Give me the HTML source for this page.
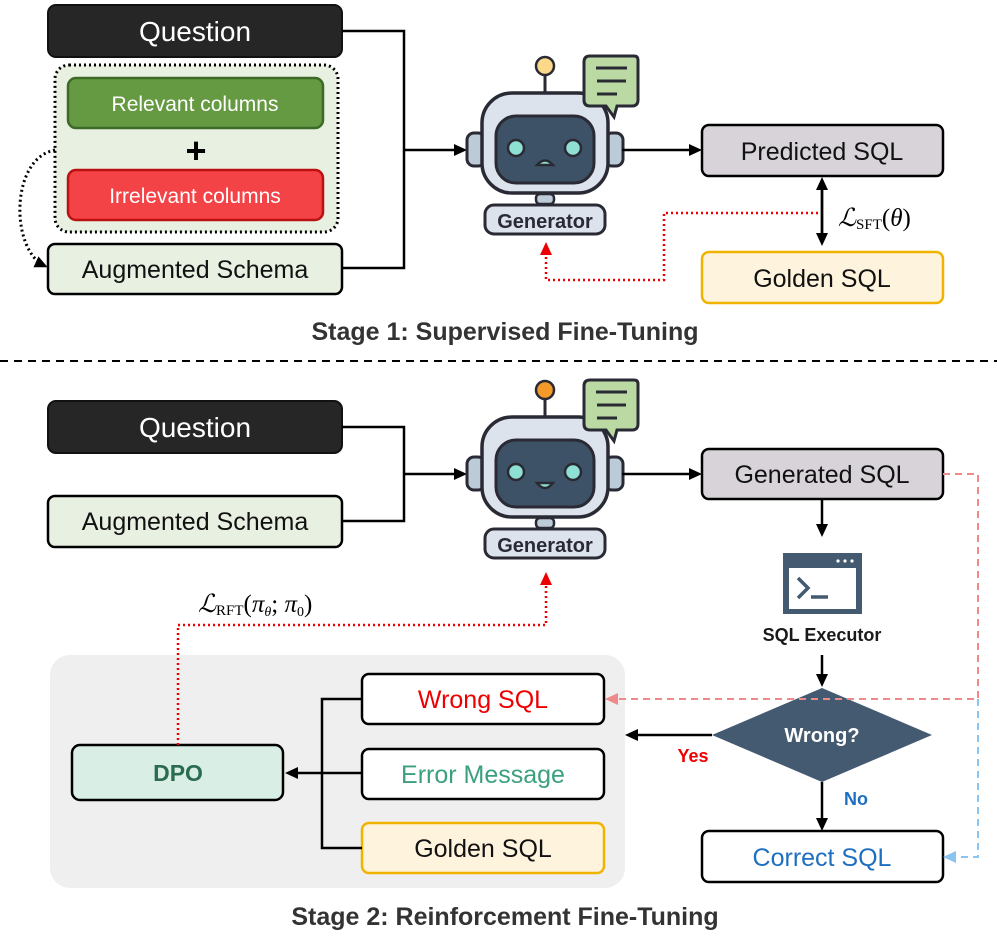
<!DOCTYPE html>
<html><head><meta charset="utf-8"><style>
html,body{margin:0;padding:0;background:#fff;}
svg{display:block;font-family:"Liberation Sans",sans-serif;}
</style></head><body>
<svg width="997" height="941" viewBox="0 0 997 941" xmlns="http://www.w3.org/2000/svg">
<defs>
<marker id="ab" markerWidth="13" markerHeight="12" refX="10" refY="6" orient="auto" markerUnits="userSpaceOnUse"><path d="M0,0 L13,6 L0,12 z" fill="#000"/></marker>
<marker id="ar" markerWidth="13" markerHeight="12" refX="10" refY="6" orient="auto" markerUnits="userSpaceOnUse"><path d="M0,0 L13,6 L0,12 z" fill="#e00"/></marker>
<marker id="ap" markerWidth="13" markerHeight="12" refX="10" refY="6" orient="auto" markerUnits="userSpaceOnUse"><path d="M0,0 L13,6 L0,12 z" fill="#f08a8a"/></marker>
<marker id="al" markerWidth="13" markerHeight="12" refX="10" refY="6" orient="auto" markerUnits="userSpaceOnUse"><path d="M0,0 L13,6 L0,12 z" fill="#8cc4f0"/></marker>
<g id="robot">
<line x1="545" y1="72" x2="545" y2="95" stroke="#2a2a35" stroke-width="3"/>
<rect x="467" y="133" width="18" height="33" rx="7" fill="#bccbd8" stroke="#2a2a35" stroke-width="3"/>
<rect x="605" y="133" width="18" height="33" rx="7" fill="#bccbd8" stroke="#2a2a35" stroke-width="3"/>
<rect x="482" y="93" width="126" height="100" rx="30" fill="#dde3ec" stroke="#2a2a35" stroke-width="3.5"/>
<rect x="496" y="116" width="98" height="67" rx="20" fill="#3d5266" stroke="#2a2a35" stroke-width="3"/>
<circle cx="516" cy="148" r="8" fill="#8fe0d4" stroke="#2a2a35" stroke-width="2.5"/>
<circle cx="573" cy="148" r="8" fill="#8fe0d4" stroke="#2a2a35" stroke-width="2.5"/>
<rect x="536" y="194" width="18" height="10" rx="4" fill="#bccbd8" stroke="#2a2a35" stroke-width="2.5"/>
<rect x="485" y="205" width="120" height="29" rx="9" fill="#dde3ec" stroke="#2a2a35" stroke-width="3"/>
<text x="545" y="228" font-size="20" font-weight="bold" fill="#2a2a35" text-anchor="middle">Generator</text>
<path d="M590,56 H634 Q638,56 638,60 V100 Q638,106 632,106 H617 L614,117 L606,106 H590 Q584,106 584,100 V62 Q584,56 590,56 z" fill="#bad9a3" stroke="#2a2a35" stroke-width="3"/>
<line x1="596" y1="68" x2="627" y2="68" stroke="#2a2a35" stroke-width="3"/>
<line x1="597" y1="81" x2="626" y2="81" stroke="#2a2a35" stroke-width="3"/>
<line x1="597" y1="94" x2="617" y2="94" stroke="#2a2a35" stroke-width="3"/>
</g>
</defs>

<!-- Stage 1 -->
<rect x="48" y="5" width="294" height="52" rx="8" fill="#262626" stroke="#111" stroke-width="2"/>
<text x="195" y="41" font-size="28" fill="#fff" text-anchor="middle">Question</text>
<rect x="55" y="65" width="283" height="167" rx="14" fill="#e8f0e2" stroke="#000" stroke-width="3" stroke-dasharray="2,3"/>
<rect x="68" y="78" width="255" height="50" rx="8" fill="#659a42" stroke="#3d6a27" stroke-width="2.5"/>
<text x="195" y="111" font-size="21" fill="#fff" text-anchor="middle">Relevant columns</text>
<text x="196" y="163" font-size="36" font-weight="bold" fill="#000" text-anchor="middle">+</text>
<rect x="68" y="170" width="255" height="50" rx="8" fill="#f44346" stroke="#b11" stroke-width="2.5"/>
<text x="195" y="203" font-size="21" fill="#fff" text-anchor="middle">Irrelevant columns</text>
<rect x="48" y="244" width="294" height="50" rx="7" fill="#e8f0e2" stroke="#000" stroke-width="2.5"/>
<text x="195" y="278" font-size="25" fill="#111" text-anchor="middle">Augmented Schema</text>
<path d="M55,150 C10,158 10,250 45,266" fill="none" stroke="#000" stroke-width="3" stroke-dasharray="2,3" marker-end="url(#ab)"/>
<path d="M342,31 H404 V268 H342" fill="none" stroke="#000" stroke-width="2.5"/>
<line x1="404" y1="150" x2="464" y2="150" stroke="#000" stroke-width="2.5" marker-end="url(#ab)"/>
<use href="#robot"/>
<circle cx="545" cy="66" r="9" fill="#fcd98a" stroke="#2a2a35" stroke-width="2.5"/>
<path d="M537,165 Q545,156 553,165 Z" fill="#8fe0d4" stroke="#2a2a35" stroke-width="2.5"/>
<line x1="622" y1="150" x2="699" y2="150" stroke="#000" stroke-width="2.5" marker-end="url(#ab)"/>
<rect x="702" y="125" width="241" height="51" rx="7" fill="#d7d3d9" stroke="#000" stroke-width="2.5"/>
<text x="822" y="160" font-size="25" fill="#111" text-anchor="middle">Predicted SQL</text>
<rect x="702" y="252" width="241" height="51" rx="7" fill="#fef3dc" stroke="#f0b400" stroke-width="2.5"/>
<text x="822" y="287" font-size="25" fill="#111" text-anchor="middle">Golden SQL</text>
<line x1="822" y1="186" x2="822" y2="243" stroke="#000" stroke-width="2.5" marker-end="url(#ab)"/>
<line x1="822" y1="240" x2="822" y2="180" stroke="#000" stroke-width="2.5" marker-end="url(#ab)"/>
<text x="838" y="226" font-size="25" font-family="Liberation Serif,serif" font-style="italic" fill="#000">ℒ<tspan font-style="normal" font-size="15" dy="3">SFT</tspan><tspan font-style="normal" dy="-3">(</tspan>θ<tspan font-style="normal">)</tspan></text>
<path d="M818,213 H664 V280 H546 V245" fill="none" stroke="#e00" stroke-width="2.5" stroke-dasharray="2,3" marker-end="url(#ar)"/>
<text x="505" y="340" font-size="25" font-weight="bold" fill="#333" text-anchor="middle">Stage 1: Supervised Fine-Tuning</text>
<line x1="0" y1="361" x2="997" y2="361" stroke="#000" stroke-width="2" stroke-dasharray="8,6"/>

<!-- Stage 2 -->
<rect x="48" y="401" width="294" height="52" rx="8" fill="#262626" stroke="#111" stroke-width="2"/>
<text x="195" y="437" font-size="28" fill="#fff" text-anchor="middle">Question</text>
<rect x="48" y="496" width="294" height="51" rx="7" fill="#e8f0e2" stroke="#000" stroke-width="2.5"/>
<text x="195" y="530" font-size="25" fill="#111" text-anchor="middle">Augmented Schema</text>
<path d="M342,427 H404 V521 H342" fill="none" stroke="#000" stroke-width="2.5"/>
<line x1="404" y1="474" x2="464" y2="474" stroke="#000" stroke-width="2.5" marker-end="url(#ab)"/>
<use href="#robot" y="324"/>
<circle cx="545" cy="390" r="9" fill="#f39a2a" stroke="#2a2a35" stroke-width="2.5"/>
<path d="M537,483 Q545,493 553,483 Z" fill="#8fe0d4" stroke="#2a2a35" stroke-width="2.5"/>
<line x1="622" y1="474" x2="699" y2="474" stroke="#000" stroke-width="2.5" marker-end="url(#ab)"/>
<rect x="702" y="449" width="241" height="50" rx="7" fill="#d7d3d9" stroke="#000" stroke-width="2.5"/>
<text x="822" y="483" font-size="25" fill="#111" text-anchor="middle">Generated SQL</text>
<line x1="822" y1="499" x2="822" y2="534" stroke="#000" stroke-width="2.5" marker-end="url(#ab)"/>
<rect x="783" y="553" width="79" height="61" fill="#435a70"/>
<rect x="789" y="568" width="67" height="41" fill="#fff"/>
<circle cx="838" cy="561" r="1.6" fill="#fff"/><circle cx="845" cy="561" r="1.6" fill="#fff"/><circle cx="852" cy="561" r="1.6" fill="#fff"/>
<path d="M798,578 L808,588 L798,598" fill="none" stroke="#435a70" stroke-width="3.5"/>
<line x1="811" y1="597" x2="828" y2="597" stroke="#435a70" stroke-width="3.5"/>
<text x="822" y="641" font-size="18" font-weight="bold" fill="#1a1a1a" text-anchor="middle">SQL Executor</text>
<line x1="822" y1="655" x2="822" y2="684" stroke="#000" stroke-width="2.5" marker-end="url(#ab)"/>
<rect x="50" y="655" width="575" height="233" rx="20" fill="#efefef"/>
<polygon points="822,688 932,735 822,782 712,735" fill="#435a70"/>
<text x="822" y="742" font-size="20" font-weight="bold" fill="#fff" text-anchor="middle">Wrong?</text>
<line x1="712" y1="735" x2="628" y2="735" stroke="#000" stroke-width="2.5" marker-end="url(#ab)"/>
<text x="693" y="762" font-size="18" font-weight="bold" fill="#e00" text-anchor="middle">Yes</text>
<line x1="822" y1="782" x2="822" y2="828" stroke="#000" stroke-width="2.5" marker-end="url(#ab)"/>
<text x="856" y="805" font-size="18" font-weight="bold" fill="#1f6fc0" text-anchor="middle">No</text>
<rect x="702" y="831" width="241" height="51" rx="7" fill="#fff" stroke="#000" stroke-width="2.5"/>
<text x="822" y="866" font-size="25" fill="#1f6fc0" text-anchor="middle">Correct SQL</text>
<path d="M943,474 H978 V699 H608" fill="none" stroke="#f08a8a" stroke-width="2" stroke-dasharray="7,5" marker-end="url(#ap)"/>
<path d="M978,699 V857 H946" fill="none" stroke="#8cc4f0" stroke-width="2" stroke-dasharray="7,5" marker-end="url(#al)"/>
<rect x="362" y="674" width="242" height="50" rx="7" fill="#fff" stroke="#000" stroke-width="2.5"/>
<text x="483" y="708" font-size="25" fill="#e00" text-anchor="middle">Wrong SQL</text>
<rect x="362" y="749" width="242" height="50" rx="7" fill="#fff" stroke="#000" stroke-width="2.5"/>
<text x="483" y="783" font-size="25" fill="#3aa080" text-anchor="middle">Error Message</text>
<rect x="362" y="823" width="242" height="50" rx="7" fill="#fef3dc" stroke="#f0b400" stroke-width="2.5"/>
<text x="483" y="857" font-size="25" fill="#111" text-anchor="middle">Golden SQL</text>
<path d="M362,699 H322 V848 H362" fill="none" stroke="#000" stroke-width="2.5"/>
<line x1="362" y1="773" x2="288" y2="773" stroke="#000" stroke-width="2.5" marker-end="url(#ab)"/>
<rect x="72" y="745" width="211" height="55" rx="8" fill="#d9efe6" stroke="#000" stroke-width="2.5"/>
<text x="178" y="781" font-size="23" font-weight="bold" fill="#2b6b50" text-anchor="middle">DPO</text>
<path d="M178,745 V625 H546 V575" fill="none" stroke="#e00" stroke-width="2.5" stroke-dasharray="2,3" marker-end="url(#ar)"/>
<text x="198" y="612" font-size="25" font-family="Liberation Serif,serif" font-style="italic" fill="#000">ℒ<tspan font-style="normal" font-size="15" dy="3">RFT</tspan><tspan font-style="normal" dy="-3">(</tspan>π<tspan font-size="14" dy="4">θ</tspan><tspan dy="-4" font-style="normal">; </tspan>π<tspan font-size="14" dy="4" font-style="normal">0</tspan><tspan dy="-4" font-style="normal">)</tspan></text>
<text x="505" y="925" font-size="25" font-weight="bold" fill="#333" text-anchor="middle">Stage 2: Reinforcement Fine-Tuning</text>
</svg>
</body></html>
